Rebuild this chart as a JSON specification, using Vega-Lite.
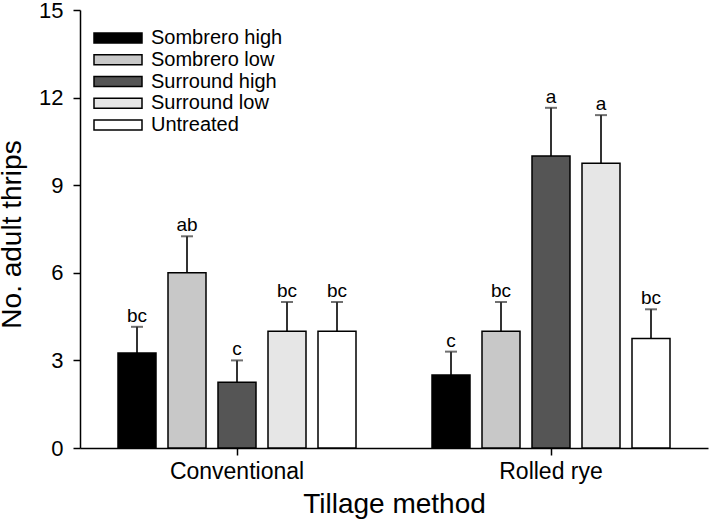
{
  "$schema": "https://vega.github.io/schema/vega-lite/v6.json",
  "width": 628,
  "height": 438,
  "autosize": {"type": "none"},
  "padding": {"left": 80, "top": 10, "right": 1, "bottom": 71},
  "config": {
    "font": "Liberation Sans",
    "view": {"stroke": null},
    "axis": {"grid": false, "domainColor": "black", "tickColor": "black", "labelColor": "black", "titleColor": "black", "domainWidth": 1.5, "tickWidth": 1.5, "labelFont": "Liberation Sans", "titleFont": "Liberation Sans", "titleFontWeight": "normal"}
  },
  "data": {
    "values": [
      {"tillage": "Conventional", "treatment": "Sombrero high", "mean": 3.25, "upper": 4.15, "letter": "bc"},
      {"tillage": "Conventional", "treatment": "Sombrero low", "mean": 6.0, "upper": 7.25, "letter": "ab"},
      {"tillage": "Conventional", "treatment": "Surround high", "mean": 2.25, "upper": 3.0, "letter": "c"},
      {"tillage": "Conventional", "treatment": "Surround low", "mean": 4.0, "upper": 5.0, "letter": "bc"},
      {"tillage": "Conventional", "treatment": "Untreated", "mean": 4.0, "upper": 5.0, "letter": "bc"},
      {"tillage": "Rolled rye", "treatment": "Sombrero high", "mean": 2.5, "upper": 3.3, "letter": "c"},
      {"tillage": "Rolled rye", "treatment": "Sombrero low", "mean": 4.0, "upper": 5.0, "letter": "bc"},
      {"tillage": "Rolled rye", "treatment": "Surround high", "mean": 10.0, "upper": 11.65, "letter": "a"},
      {"tillage": "Rolled rye", "treatment": "Surround low", "mean": 9.75, "upper": 11.4, "letter": "a"},
      {"tillage": "Rolled rye", "treatment": "Untreated", "mean": 3.75, "upper": 4.75, "letter": "bc"}
    ]
  },
  "encoding": {
    "x": {
      "field": "tillage", "type": "nominal",
      "scale": {"paddingInner": 0, "paddingOuter": 0},
      "axis": {"title": "Tillage method", "labelAngle": 0, "labelFontSize": 23, "titleFontSize": 28, "tickSize": 7, "labelPadding": 5, "titlePadding": 7}
    },
    "xOffset": {
      "field": "treatment", "type": "nominal",
      "scale": {"paddingInner": 0.24, "paddingOuter": 0.76}
    }
  },
  "layer": [
    {
      "mark": {"type": "rule", "color": "#333333", "strokeWidth": 2},
      "encoding": {
        "y": {"field": "mean", "type": "quantitative"},
        "y2": {"field": "upper"}
      }
    },
    {
      "mark": {"type": "tick", "color": "#333333", "thickness": 2, "size": 12},
      "encoding": {
        "y": {"field": "upper", "type": "quantitative"}
      }
    },
    {
      "mark": {"type": "bar", "stroke": "black", "strokeWidth": 1.5},
      "encoding": {
        "y": {
          "field": "mean", "type": "quantitative",
          "scale": {"domain": [0, 15], "nice": false},
          "axis": {"title": "No. adult thrips", "values": [0, 3, 6, 9, 12, 15], "labelFontSize": 22, "titleFontSize": 28, "tickSize": 7, "labelPadding": 10, "titlePadding": 12, "titleY": 224}
        },
        "fill": {
          "field": "treatment", "type": "nominal",
          "scale": {"domain": ["Sombrero high", "Sombrero low", "Surround high", "Surround low", "Untreated"], "range": ["#000000", "#c8c8c8", "#555555", "#e6e6e6", "#ffffff"]},
          "legend": {
            "title": null,
            "orient": "none",
            "legendX": 28,
            "legendY": 18,
            "padding": 0,
            "symbolType": "M-4,-0.83H4V0.83H-4Z",
            "symbolSize": 144,
            "symbolStrokeColor": "black",
            "symbolStrokeWidth": 1.5,
            "symbolOpacity": 1,
            "labelFontSize": 20,
            "labelColor": "black",
            "labelFont": "Liberation Sans",
            "labelOffset": 23,
            "rowPadding": 1.75
          }
        }
      }
    },
    {
      "mark": {"type": "text", "baseline": "alphabetic", "dy": -5, "fontSize": 19, "color": "black"},
      "encoding": {
        "y": {"field": "upper", "type": "quantitative"},
        "text": {"field": "letter"}
      }
    }
  ]
}
